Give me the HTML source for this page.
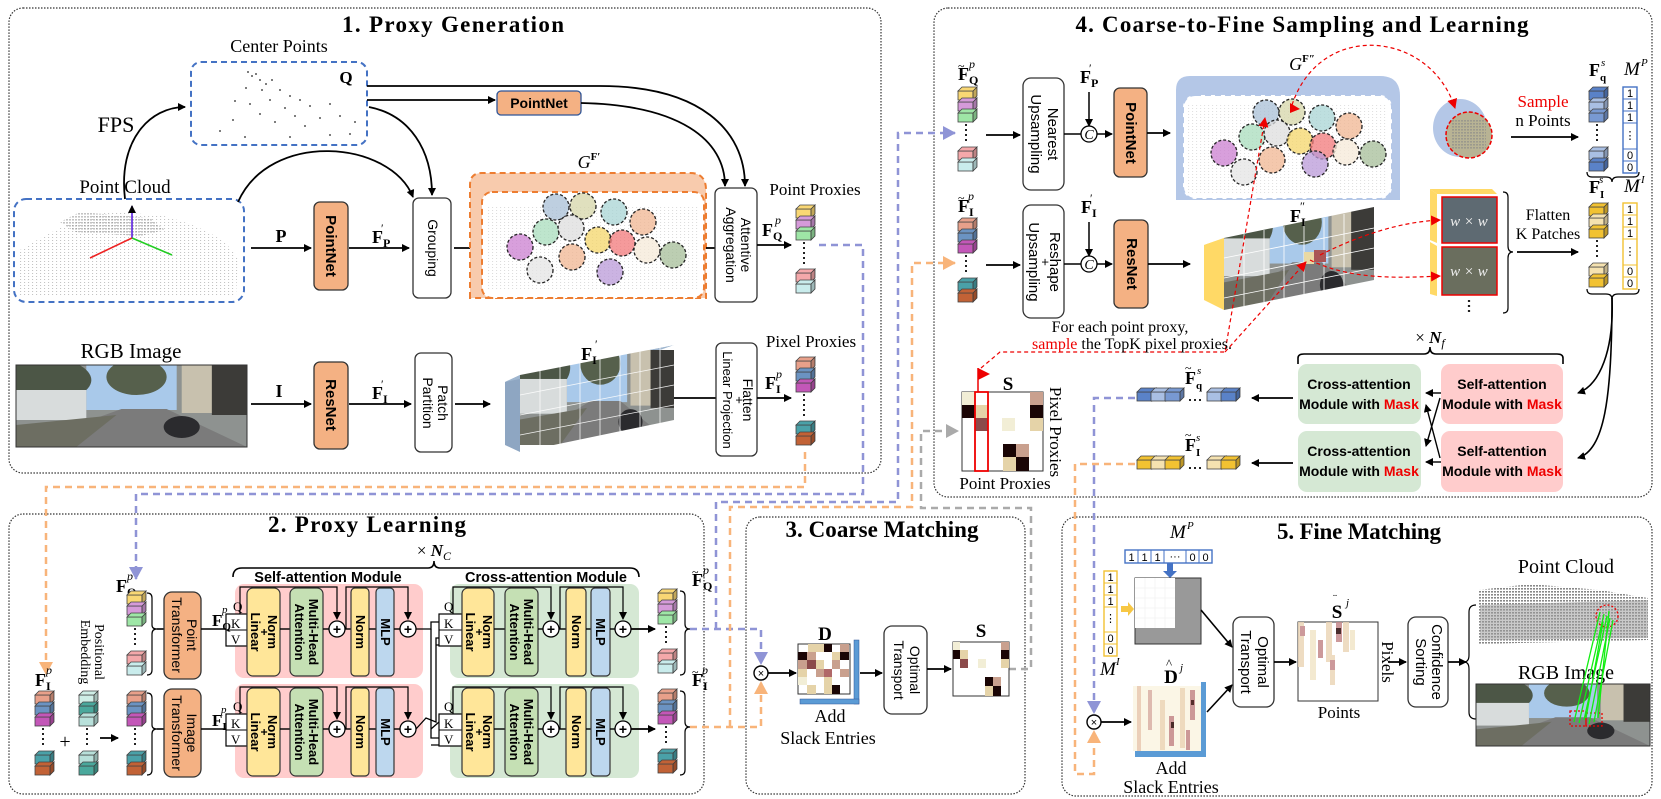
<!DOCTYPE html>
<html><head><meta charset="utf-8"><style>
html,body{margin:0;padding:0;background:#fff;}
svg{display:block;}
.t{font-family:"Liberation Serif",serif;}
.s{font-family:"Liberation Sans",sans-serif;}
.ttl{font-family:"Liberation Serif",serif;font-weight:bold;font-size:23px;}
</style></head><body>
<svg width="1661" height="799" viewBox="0 0 1661 799" xmlns="http://www.w3.org/2000/svg">
<defs>
<marker id="a" markerWidth="8" markerHeight="8" refX="7" refY="4" orient="auto" markerUnits="userSpaceOnUse"><path d="M0,0 L8,4 L0,8z" fill="#000"/></marker>
<marker id="ab" markerWidth="14" markerHeight="14" refX="12" refY="7" orient="auto" markerUnits="userSpaceOnUse"><path d="M0,0 L13,7 L0,14z" fill="#8f94d6"/></marker>
<marker id="ao" markerWidth="14" markerHeight="14" refX="12" refY="7" orient="auto" markerUnits="userSpaceOnUse"><path d="M0,0 L13,7 L0,14z" fill="#f8b47a"/></marker>
<marker id="ag" markerWidth="14" markerHeight="14" refX="12" refY="7" orient="auto" markerUnits="userSpaceOnUse"><path d="M0,0 L13,7 L0,14z" fill="#aaa"/></marker>
<marker id="ar" markerWidth="10" markerHeight="10" refX="9" refY="5" orient="auto" markerUnits="userSpaceOnUse"><path d="M0,0 L10,5 L0,10z" fill="#e00"/></marker>
<pattern id="dp" width="4" height="3" patternUnits="userSpaceOnUse"><rect width="1.1" height="1" fill="#aaa"/></pattern>
<pattern id="dk" width="3" height="3" patternUnits="userSpaceOnUse"><rect width="2" height="1.6" fill="#888"/></pattern>
<g id="cb"><rect x="0" y="4" width="15" height="9" stroke="#444" stroke-width="0.8"/><path d="M0,4 L4,0 L19,0 L15,4 Z M15,4 L19,0 L19,9 L15,13 Z" stroke="#444" stroke-width="0.8"/><path d="M15,4 L19,0 L19,9 L15,13Z" fill="#000" fill-opacity=".22"/></g>
<symbol id="ph" viewBox="0 0 230 82" preserveAspectRatio="none">
<rect width="230" height="82" fill="#8e9290"/>
<rect x="70" y="0" width="90" height="45" fill="#a9c9ea"/>
<rect x="165" y="0" width="65" height="48" fill="#c8c1ae"/><rect x="195" y="0" width="35" height="50" fill="#3c3b38"/>
<ellipse cx="30" cy="15" rx="45" ry="22" fill="#4c5646"/><ellipse cx="120" cy="12" rx="30" ry="18" fill="#56604c"/>
<rect x="0" y="25" width="70" height="30" fill="#d8dcdc"/>
<polygon points="0,82 230,82 150,44 105,44" fill="#7b7b7b"/>
<polygon points="0,82 60,82 100,50 0,60" fill="#6d6e62"/>
<ellipse cx="165" cy="62" rx="18" ry="11" fill="#2b2b2e"/>
</symbol>
</defs>

<!-- Panels -->
<g fill="none" stroke="#333" stroke-width="1.2" stroke-dasharray="1.5 1.5">
<rect x="9" y="8" width="872" height="465" rx="14"/>
<rect x="934" y="8" width="718" height="489" rx="14"/>
<rect x="9" y="514" width="695" height="280" rx="14"/>
<rect x="746" y="517" width="279" height="277" rx="14"/>
<rect x="1062" y="517" width="590" height="279" rx="14"/>
</g>
<text class="ttl" x="453" y="32" text-anchor="middle" textLength="222">1. Proxy Generation</text>
<text class="ttl" x="1302" y="32" text-anchor="middle" textLength="453">4. Coarse-to-Fine Sampling and Learning</text>
<text class="ttl" x="367" y="532" text-anchor="middle" textLength="198">2. Proxy Learning</text>
<text class="ttl" x="882" y="537" text-anchor="middle" textLength="193">3. Coarse Matching</text>
<text class="ttl" x="1359" y="539" text-anchor="middle" textLength="164">5. Fine Matching</text>

<!-- ===== Panel 1 ===== -->
<text class="t" x="279" y="52" font-size="18" text-anchor="middle">Center Points</text>
<rect x="191" y="62" width="176" height="83" rx="10" fill="none" stroke="#4472c4" stroke-width="2" stroke-dasharray="6 4"/>
<text class="t" x="346" y="83" font-size="17" font-weight="bold" text-anchor="middle">Q</text>
<g fill="#555">
<circle cx="248" cy="72" r="1"/><circle cx="252" cy="76" r="1"/><circle cx="256" cy="74" r="1"/><circle cx="260" cy="80" r="1"/><circle cx="266" cy="84" r="1"/><circle cx="272" cy="80" r="1"/><circle cx="246" cy="88" r="1"/><circle cx="262" cy="90" r="1"/><circle cx="280" cy="90" r="1"/><circle cx="290" cy="96" r="1"/><circle cx="300" cy="100" r="1"/><circle cx="270" cy="100" r="1"/><circle cx="250" cy="104" r="1"/><circle cx="235" cy="101" r="1"/><circle cx="285" cy="108" r="1"/><circle cx="310" cy="106" r="1"/><circle cx="330" cy="104" r="1"/><circle cx="260" cy="114" r="1"/><circle cx="295" cy="116" r="1"/><circle cx="320" cy="118" r="1"/><circle cx="340" cy="116" r="1"/><circle cx="233" cy="120" r="1"/><circle cx="275" cy="122" r="1"/><circle cx="305" cy="126" r="1"/><circle cx="355" cy="122" r="1"/><circle cx="220" cy="131" r="1"/><circle cx="245" cy="137" r="1"/><circle cx="290" cy="137" r="1"/><circle cx="330" cy="135" r="1"/><circle cx="350" cy="134" r="1"/>
</g>
<text class="t" x="116" y="132" font-size="22" text-anchor="middle">FPS</text>
<path d="M125,199 C118,140 150,107 185,107" fill="none" stroke="#000" stroke-width="1.8" marker-end="url(#a)"/>
<text class="t" x="125" y="193" font-size="19" text-anchor="middle">Point Cloud</text>
<rect x="14" y="199" width="230" height="103" rx="12" fill="none" stroke="#4472c4" stroke-width="2" stroke-dasharray="6 4"/>
<path d="M20,250 C60,225 90,215 110,212 L160,215 C200,225 230,240 238,260 L236,296 L20,296Z" fill="url(#dp)" opacity="0.7"/>
<path d="M60,222 L80,212 L150,218 L165,230 L140,236 L75,232Z" fill="url(#dk)" opacity="0.5"/>
<line x1="132" y1="238" x2="132" y2="206" stroke="#5a1fe0" stroke-width="1.6" marker-end="url(#a)"/>
<line x1="132" y1="238" x2="90" y2="258" stroke="#e22" stroke-width="1.6"/>
<line x1="132" y1="238" x2="172" y2="255" stroke="#2c2" stroke-width="1.6"/>
<path d="M238,202 C270,130 390,140 413,197" fill="none" stroke="#000" stroke-width="1.8" marker-end="url(#a)"/>
<path d="M369,107 C410,115 432,150 432,195" fill="none" stroke="#000" stroke-width="1.8" marker-end="url(#a)"/>
<path d="M367,86 L600,86 C700,86 745,130 745,186" fill="none" stroke="#000" stroke-width="1.8" marker-end="url(#a)"/>
<path d="M367,100 L495,100" fill="none" stroke="#000" stroke-width="1.8" marker-end="url(#a)"/>
<rect x="497" y="91" width="84" height="24" rx="4" fill="#f4b183" stroke="#2f5597" stroke-width="1.3"/>
<text class="s" x="539" y="108" font-size="14" font-weight="bold" text-anchor="middle">PointNet</text>
<path d="M581,103 C680,105 725,140 725,186" fill="none" stroke="#000" stroke-width="1.8" marker-end="url(#a)"/>

<text class="t" x="281" y="242" font-size="18" font-weight="bold" text-anchor="middle">P</text>
<line x1="251" y1="248" x2="311" y2="248" stroke="#000" stroke-width="1.8" marker-end="url(#a)"/>
<rect x="314" y="202" width="34" height="88" rx="6" fill="#f4b183" stroke="#333" stroke-width="1.3"/>
<text class="s" transform="translate(326,246) rotate(90)" font-size="15" font-weight="bold" text-anchor="middle">PointNet</text>
<text class="t" x="372" y="243" font-size="18" font-weight="bold">F<tspan font-size="12" dy="4">P</tspan></text><text class="t" x="381" y="232" font-size="12">′</text>
<line x1="349" y1="248" x2="409" y2="248" stroke="#000" stroke-width="1.8" marker-end="url(#a)"/>
<rect x="413" y="198" width="38" height="100" rx="6" fill="#fff" stroke="#333" stroke-width="1.3"/>
<text class="s" transform="translate(428,248) rotate(90)" font-size="14" text-anchor="middle">Grouping</text>
<line x1="454" y1="248" x2="477" y2="248" stroke="#000" stroke-width="1.8" marker-end="url(#a)"/>

<path d="M470,298 L470,185 Q470,173 482,173 L690,173 Q706,173 706,190 L706,298Z" fill="#f8cbad" stroke="#ed7d31" stroke-width="2" stroke-dasharray="6 4"/>
<rect x="482" y="192" width="222" height="106" rx="10" fill="#fff" stroke="#ed7d31" stroke-width="2" stroke-dasharray="6 4"/>
<rect x="488" y="205" width="210" height="85" fill="url(#dp)" opacity="0.4"/>
<text class="t" x="589" y="168" font-size="18" font-style="italic" text-anchor="middle">G<tspan font-size="11" font-style="normal" font-weight="bold" dy="-8">F′</tspan></text>
<g stroke="#222" stroke-width="1.3" stroke-dasharray="3 2" fill-opacity="0.75">
<circle cx="556" cy="207" r="13" fill="#a8bfd6"/><circle cx="583" cy="206" r="13" fill="#d5d6a8"/><circle cx="614" cy="212" r="13" fill="#a8d4d4"/><circle cx="643" cy="222" r="13" fill="#f0b592"/>
<circle cx="546" cy="232" r="13" fill="#a8dcbc"/><circle cx="571" cy="228" r="13" fill="#ddd"/><circle cx="598" cy="240" r="13" fill="#f4d66a"/><circle cx="622" cy="243" r="13" fill="#f2787a"/><circle cx="647" cy="250" r="13" fill="#f6ead8"/><circle cx="673" cy="255" r="13" fill="#a6be98"/>
<circle cx="520" cy="247" r="13" fill="#cb7fd0"/><circle cx="540" cy="270" r="13" fill="#e4e4e4"/><circle cx="572" cy="257" r="13" fill="#f0b592"/><circle cx="610" cy="272" r="13" fill="#b99ad8"/>
</g>
<line x1="706" y1="248" x2="715" y2="248" stroke="#000" stroke-width="1.8"/>
<rect x="715" y="188" width="42" height="114" rx="6" fill="#fff" stroke="#333" stroke-width="1.3"/>
<text class="s" transform="translate(741,245) rotate(90)" font-size="14" text-anchor="middle">Attentive</text>
<text class="s" transform="translate(726,245) rotate(90)" font-size="14" text-anchor="middle">Aggregation</text>
<text class="t" x="815" y="195" font-size="17" text-anchor="middle">Point Proxies</text>
<text class="t" x="762" y="236" font-size="18" font-weight="bold">F<tspan font-size="12" dy="4">Q</tspan></text><text class="t" x="775" y="224" font-size="12" font-style="italic">p</text>
<line x1="757" y1="245" x2="791" y2="245" stroke="#000" stroke-width="1.8" marker-end="url(#a)"/>
<g transform="translate(796,205)"><use href="#cb" fill="#f9d774"/><use href="#cb" y="11" fill="#d59ad9"/><use href="#cb" y="22" fill="#9ee6a6"/><line x1="8" y1="37" x2="8" y2="60" stroke="#222" stroke-width="2" stroke-dasharray="2 3"/><use href="#cb" y="64" fill="#f4a8aa"/><use href="#cb" y="75" fill="#c9ecec"/></g>

<text class="t" x="131" y="358" font-size="21" text-anchor="middle">RGB Image</text>
<use href="#ph" x="16" y="365" width="231" height="82"/>
<rect x="16" y="365" width="231" height="82" fill="none" stroke="#333"/>
<text class="t" x="279" y="397" font-size="18" font-weight="bold" text-anchor="middle">I</text>
<line x1="251" y1="404" x2="311" y2="404" stroke="#000" stroke-width="1.8" marker-end="url(#a)"/>
<rect x="314" y="362" width="34" height="87" rx="6" fill="#f4b183" stroke="#333" stroke-width="1.3"/>
<text class="s" transform="translate(326,405) rotate(90)" font-size="15" font-weight="bold" text-anchor="middle">ResNet</text>
<text class="t" x="372" y="399" font-size="18" font-weight="bold">F<tspan font-size="12" dy="4">I</tspan></text><text class="t" x="381" y="388" font-size="12">′</text>
<line x1="349" y1="404" x2="411" y2="404" stroke="#000" stroke-width="1.8" marker-end="url(#a)"/>
<rect x="415" y="353" width="37" height="99" rx="6" fill="#fff" stroke="#333" stroke-width="1.3"/>
<text class="s" transform="translate(438,403) rotate(90)" font-size="14" text-anchor="middle">Patch</text>
<text class="s" transform="translate(423,403) rotate(90)" font-size="14" text-anchor="middle">Partition</text>
<line x1="455" y1="404" x2="490" y2="404" stroke="#000" stroke-width="1.8" marker-end="url(#a)"/>
<polygon points="505,382 520,375 520,452 505,445" fill="#8ea6c2"/>
<polygon points="505,382 520,375 674,345 660,350" fill="#9fb6cf"/>
<svg x="520" y="345" width="154" height="107" viewBox="0 0 154 107" preserveAspectRatio="none"><use href="#ph" x="0" y="5" width="154" height="95"/></svg>
<polygon points="520,375 674,345 520,345" fill="#fff"/>
<polygon points="520,452 674,420 674,452" fill="#fff"/>
<g stroke="#fff" stroke-width="0.8" opacity="0.9"><line x1="540" y1="371" x2="540" y2="448"/><line x1="560" y1="367" x2="560" y2="444"/><line x1="580" y1="363" x2="580" y2="440"/><line x1="600" y1="359" x2="600" y2="436"/><line x1="620" y1="355" x2="620" y2="432"/><line x1="640" y1="351" x2="640" y2="428"/><line x1="660" y1="347" x2="660" y2="424"/><line x1="520" y1="395" x2="674" y2="365"/><line x1="520" y1="415" x2="674" y2="385"/><line x1="520" y1="435" x2="674" y2="405"/></g>
<text class="t" x="589" y="360" font-size="18" font-weight="bold" text-anchor="middle">F<tspan font-size="12" dy="4">I</tspan></text><text class="t" x="595" y="348" font-size="12">′</text>
<line x1="674" y1="398" x2="716" y2="398" stroke="#000" stroke-width="1.8"/>
<rect x="716" y="343" width="41" height="113" rx="6" fill="#fff" stroke="#333" stroke-width="1.3"/>
<text class="s" transform="translate(743,400) rotate(90)" font-size="14" text-anchor="middle">Flatten</text>
<text class="s" transform="translate(735,400) rotate(90)" font-size="13" text-anchor="middle">+</text>
<text class="s" transform="translate(723,400) rotate(90)" font-size="13" text-anchor="middle">Linear Projection</text>
<text class="t" x="811" y="347" font-size="17" text-anchor="middle">Pixel Proxies</text>
<text class="t" x="765" y="389" font-size="18" font-weight="bold">F<tspan font-size="12" dy="4">I</tspan></text><text class="t" x="776" y="378" font-size="12" font-style="italic">p</text>
<line x1="757" y1="398" x2="791" y2="398" stroke="#000" stroke-width="1.8" marker-end="url(#a)"/>
<g transform="translate(796,357)"><use href="#cb" fill="#e8a08a"/><use href="#cb" y="11" fill="#6b93c2"/><use href="#cb" y="22" fill="#c357b8"/><line x1="8" y1="37" x2="8" y2="60" stroke="#222" stroke-width="2" stroke-dasharray="2 3"/><use href="#cb" y="64" fill="#4aa1a8"/><use href="#cb" y="75" fill="#c26236"/></g>

<!-- dashed connectors -->
<g fill="none" stroke-width="2.5" stroke-dasharray="7 5">
<path d="M819,245 L863,245 L863,494 L136,494 L136,579" stroke="#8f94d6" marker-end="url(#ab)"/>
<path d="M805,452 L805,487 L46,487 L46,674" stroke="#f8b47a" marker-end="url(#ao)"/>
<path d="M690,629 L761,629 L761,664" stroke="#8f94d6" marker-end="url(#ab)"/>
<path d="M716,629 L716,502 L898,502 L898,133 L955,133" stroke="#8f94d6" marker-end="url(#ab)"/>
<path d="M690,727 L761,727 L761,682" stroke="#f8b47a" marker-end="url(#ao)"/>
<path d="M730,727 L730,507 L912,507 L912,263 L955,263" stroke="#f8b47a" marker-end="url(#ao)"/>
<path d="M1009,669 L1031,669 L1031,508 L921,508 L921,431 L958,431" stroke="#aaa" marker-end="url(#ag)"/>
<path d="M1135,398 L1094,398 L1094,713" stroke="#8f94d6" marker-end="url(#ab)"/>
<path d="M1135,464 L1075,464 L1075,774 L1094,774 L1094,731" stroke="#f8b47a" marker-end="url(#ao)"/>
</g>

<!-- ===== Panel 2 ===== -->
<text class="t" x="434" y="556" font-size="17" text-anchor="middle">× <tspan font-style="italic" font-weight="bold">N</tspan><tspan font-size="12" font-style="italic" dy="4">C</tspan></text>
<path d="M233,577 Q233,568 242,568 L428,568 Q434,568 434,561 Q434,568 440,568 L630,568 Q639,568 639,577" fill="none" stroke="#000" stroke-width="1.6"/>
<text class="s" x="328" y="582" font-size="14.5" font-weight="bold" text-anchor="middle">Self-attention Module</text>
<text class="s" x="546" y="582" font-size="14.5" font-weight="bold" text-anchor="middle">Cross-attention Module</text>

<text class="t" x="116" y="592" font-size="18" font-weight="bold">F<tspan font-size="12" dy="4">Q</tspan></text><text class="t" x="127" y="580" font-size="12" font-style="italic">p</text>
<g transform="translate(127,591)"><use href="#cb" fill="#f9d774"/><use href="#cb" y="11" fill="#d59ad9"/><use href="#cb" y="22" fill="#9ee6a6"/><line x1="8" y1="37" x2="8" y2="56" stroke="#222" stroke-width="2" stroke-dasharray="2 3"/><use href="#cb" y="60" fill="#f4a8aa"/><use href="#cb" y="71" fill="#c9ecec"/></g>
<path d="M147,593 Q152,593 152,598 L152,625 Q152,629 157,629 Q152,629 152,634 L152,670 Q152,675 147,675" fill="none" stroke="#000" stroke-width="1.2"/>
<line x1="157" y1="629" x2="164" y2="629" stroke="#000" stroke-width="1.6"/>
<rect x="164" y="592" width="37" height="87" rx="8" fill="#f4b183" stroke="#333" stroke-width="1.3"/>
<text class="s" transform="translate(187,635) rotate(90)" font-size="14" text-anchor="middle">Point</text>
<text class="s" transform="translate(172,635) rotate(90)" font-size="14" text-anchor="middle">Transformer</text>

<text class="t" x="35" y="686" font-size="18" font-weight="bold">F<tspan font-size="12" dy="4">I</tspan></text><text class="t" x="46" y="674" font-size="12" font-style="italic">p</text>
<g transform="translate(35,691)"><use href="#cb" fill="#e8a08a"/><use href="#cb" y="11" fill="#6b93c2"/><use href="#cb" y="22" fill="#c357b8"/><line x1="8" y1="37" x2="8" y2="56" stroke="#222" stroke-width="2" stroke-dasharray="2 3"/><use href="#cb" y="60" fill="#4aa1a8"/><use href="#cb" y="71" fill="#c26236"/></g>
<text class="t" x="65" y="748" font-size="20" text-anchor="middle">+</text>
<text class="t" transform="translate(81,652) rotate(90)" font-size="14" text-anchor="middle">Embedding</text>
<text class="t" transform="translate(95,652) rotate(90)" font-size="14" text-anchor="middle">Positional</text>
<g transform="translate(79,691)"><use href="#cb" fill="#cfeee6"/><use href="#cb" y="11" fill="#4aa89c"/><use href="#cb" y="22" fill="#b8e0da"/><line x1="8" y1="37" x2="8" y2="56" stroke="#222" stroke-width="2" stroke-dasharray="2 3"/><use href="#cb" y="60" fill="#b8e0da"/><use href="#cb" y="71" fill="#4aa89c"/></g>
<line x1="100" y1="738" x2="118" y2="738" stroke="#000" stroke-width="1.8" marker-end="url(#a)"/>
<g transform="translate(127,691)"><use href="#cb" fill="#e8a08a"/><use href="#cb" y="11" fill="#6b93c2"/><use href="#cb" y="22" fill="#c357b8"/><line x1="8" y1="37" x2="8" y2="56" stroke="#222" stroke-width="2" stroke-dasharray="2 3"/><use href="#cb" y="60" fill="#4aa1a8"/><use href="#cb" y="71" fill="#c26236"/></g>
<path d="M147,693 Q152,693 152,698 L152,725 Q152,729 157,729 Q152,729 152,734 L152,770 Q152,775 147,775" fill="none" stroke="#000" stroke-width="1.2"/>
<line x1="157" y1="729" x2="164" y2="729" stroke="#000" stroke-width="1.6"/>
<rect x="164" y="689" width="37" height="88" rx="8" fill="#f4b183" stroke="#333" stroke-width="1.3"/>
<text class="s" transform="translate(187,733) rotate(90)" font-size="14" text-anchor="middle">Image</text>
<text class="s" transform="translate(172,733) rotate(90)" font-size="14" text-anchor="middle">Transformer</text>

<!-- attention blocks, two rows -->
<g id="row1">
<rect x="235" y="584" width="188" height="94" rx="9" fill="#ffcccc"/>
<rect x="450" y="584" width="189" height="94" rx="9" fill="#d5e8d4"/>
<line x1="201" y1="629" x2="226" y2="629" stroke="#000" stroke-width="1.6"/>
<rect x="226" y="614" width="21" height="32" fill="#fff" stroke="#000" stroke-width="1.2"/><line x1="226" y1="630" x2="247" y2="630" stroke="#000"/>
<text class="t" x="233" y="611" font-size="13">Q</text><text class="t" x="231" y="628" font-size="13">K</text><text class="t" x="231" y="644" font-size="13">V</text>
<path d="M240,614 L240,587 L337,587 L337,619" fill="none" stroke="#000" stroke-width="1.2" marker-end="url(#a)"/>
<rect x="247" y="588" width="33" height="88" rx="6" fill="#ffe699" stroke="#333" stroke-width="1.2"/>
<text class="s" transform="translate(268,632) rotate(90)" font-size="13" font-weight="bold" text-anchor="middle">Norm</text>
<text class="s" transform="translate(260,632) rotate(90)" font-size="12" font-weight="bold" text-anchor="middle">+</text>
<text class="s" transform="translate(251,632) rotate(90)" font-size="13" font-weight="bold" text-anchor="middle">Linear</text>
<line x1="280" y1="629" x2="290" y2="629" stroke="#000" stroke-width="1.4"/>
<rect x="290" y="588" width="33" height="88" rx="6" fill="#c5e0b4" stroke="#333" stroke-width="1.2"/>
<text class="s" transform="translate(309,632) rotate(90)" font-size="13" font-weight="bold" text-anchor="middle">Multi-Head</text>
<text class="s" transform="translate(295,632) rotate(90)" font-size="13" font-weight="bold" text-anchor="middle">Attention</text>
<line x1="323" y1="629" x2="329" y2="629" stroke="#000" stroke-width="1.4"/>
<circle cx="337" cy="629" r="8" fill="#fff" stroke="#000" stroke-width="1.3"/><text class="s" x="337" y="634" font-size="14" font-weight="bold" text-anchor="middle">+</text>
<path d="M346,629 L346,587 L408,587 L408,619" fill="none" stroke="#000" stroke-width="1.2" marker-end="url(#a)"/>
<line x1="345" y1="629" x2="351" y2="629" stroke="#000" stroke-width="1.4"/>
<rect x="351" y="588" width="18" height="88" rx="4" fill="#ffe699" stroke="#333" stroke-width="1.2"/>
<text class="s" transform="translate(356,632) rotate(90)" font-size="13" font-weight="bold" text-anchor="middle">Norm</text>
<line x1="369" y1="629" x2="376" y2="629" stroke="#000" stroke-width="1.4"/>
<rect x="376" y="588" width="18" height="88" rx="4" fill="#bdd7ee" stroke="#333" stroke-width="1.2"/>
<text class="s" transform="translate(381,632) rotate(90)" font-size="13" font-weight="bold" text-anchor="middle">MLP</text>
<line x1="394" y1="629" x2="400" y2="629" stroke="#000" stroke-width="1.4"/>
<circle cx="408" cy="629" r="8" fill="#fff" stroke="#000" stroke-width="1.3"/><text class="s" x="408" y="634" font-size="14" font-weight="bold" text-anchor="middle">+</text>
<rect x="439" y="614" width="23" height="32" fill="#fff" stroke="#000" stroke-width="1.2"/><line x1="439" y1="630" x2="462" y2="630" stroke="#000"/>
<text class="t" x="444" y="611" font-size="13">Q</text><text class="t" x="444" y="628" font-size="13">K</text><text class="t" x="444" y="644" font-size="13">V</text>
<path d="M453,614 L453,587 L551,587 L551,619" fill="none" stroke="#000" stroke-width="1.2" marker-end="url(#a)"/>
<rect x="462" y="588" width="32" height="88" rx="6" fill="#ffe699" stroke="#333" stroke-width="1.2"/>
<text class="s" transform="translate(483,632) rotate(90)" font-size="13" font-weight="bold" text-anchor="middle">Norm</text>
<text class="s" transform="translate(475,632) rotate(90)" font-size="12" font-weight="bold" text-anchor="middle">+</text>
<text class="s" transform="translate(466,632) rotate(90)" font-size="13" font-weight="bold" text-anchor="middle">Linear</text>
<line x1="494" y1="629" x2="505" y2="629" stroke="#000" stroke-width="1.4"/>
<rect x="505" y="588" width="33" height="88" rx="6" fill="#c5e0b4" stroke="#333" stroke-width="1.2"/>
<text class="s" transform="translate(524,632) rotate(90)" font-size="13" font-weight="bold" text-anchor="middle">Multi-Head</text>
<text class="s" transform="translate(510,632) rotate(90)" font-size="13" font-weight="bold" text-anchor="middle">Attention</text>
<line x1="538" y1="629" x2="543" y2="629" stroke="#000" stroke-width="1.4"/>
<circle cx="551" cy="629" r="8" fill="#fff" stroke="#000" stroke-width="1.3"/><text class="s" x="551" y="634" font-size="14" font-weight="bold" text-anchor="middle">+</text>
<path d="M560,629 L560,587 L623,587 L623,619" fill="none" stroke="#000" stroke-width="1.2" marker-end="url(#a)"/>
<line x1="559" y1="629" x2="566" y2="629" stroke="#000" stroke-width="1.4"/>
<rect x="566" y="588" width="20" height="88" rx="4" fill="#ffe699" stroke="#333" stroke-width="1.2"/>
<text class="s" transform="translate(572,632) rotate(90)" font-size="13" font-weight="bold" text-anchor="middle">Norm</text>
<line x1="586" y1="629" x2="591" y2="629" stroke="#000" stroke-width="1.4"/>
<rect x="591" y="588" width="19" height="88" rx="4" fill="#bdd7ee" stroke="#333" stroke-width="1.2"/>
<text class="s" transform="translate(596,632) rotate(90)" font-size="13" font-weight="bold" text-anchor="middle">MLP</text>
<line x1="610" y1="629" x2="615" y2="629" stroke="#000" stroke-width="1.4"/>
<circle cx="623" cy="629" r="8" fill="#fff" stroke="#000" stroke-width="1.3"/><text class="s" x="623" y="634" font-size="14" font-weight="bold" text-anchor="middle">+</text>
<line x1="631" y1="629" x2="655" y2="629" stroke="#000" stroke-width="1.8" marker-end="url(#a)"/>
</g>
<use href="#row1" y="100"/>
<text class="t" x="212" y="626" font-size="17" font-weight="bold">F<tspan font-size="11" dy="4">Q</tspan></text><text class="t" x="222" y="613" font-size="11" font-style="italic">p</text>
<text class="t" x="212" y="726" font-size="17" font-weight="bold">F<tspan font-size="11" dy="4">I</tspan></text><text class="t" x="221" y="713" font-size="11" font-style="italic">p</text>
<g fill="none" stroke="#000" stroke-width="1.3">
<path d="M416,629 L431,629 L431,622 L439,622"/>
<path d="M431,629 L431,738 L439,738 M431,745 L439,745"/>
<path d="M416,729 L426,718 L436,722 L436,638 L439,638 M436,645 L439,645"/>
<path d="M431,729 L439,722"/>
</g>
<text class="t" x="692" y="586" font-size="18" font-weight="bold">F<tspan font-size="12" dy="4">Q</tspan></text><text class="t" x="703" y="574" font-size="12" font-style="italic">p</text><text class="t" x="692" y="576" font-size="12">~</text>
<g transform="translate(658,589)"><use href="#cb" fill="#f9d774"/><use href="#cb" y="11" fill="#d59ad9"/><use href="#cb" y="22" fill="#9ee6a6"/><line x1="8" y1="37" x2="8" y2="56" stroke="#222" stroke-width="2" stroke-dasharray="2 3"/><use href="#cb" y="60" fill="#f4a8aa"/><use href="#cb" y="71" fill="#c9ecec"/></g>
<text class="t" x="692" y="686" font-size="18" font-weight="bold">F<tspan font-size="12" dy="4">I</tspan></text><text class="t" x="702" y="674" font-size="12" font-style="italic">p</text><text class="t" x="692" y="676" font-size="12">~</text>
<g transform="translate(658,689)"><use href="#cb" fill="#e8a08a"/><use href="#cb" y="11" fill="#6b93c2"/><use href="#cb" y="22" fill="#c357b8"/><line x1="8" y1="37" x2="8" y2="56" stroke="#222" stroke-width="2" stroke-dasharray="2 3"/><use href="#cb" y="60" fill="#4aa1a8"/><use href="#cb" y="71" fill="#c26236"/></g>
<path d="M680,591 Q685,591 685,596 L685,624 Q685,629 690,629 Q685,629 685,634 L685,670 Q685,675 680,675" fill="none" stroke="#000" stroke-width="1.2"/>
<path d="M680,691 Q685,691 685,696 L685,722 Q685,727 690,727 Q685,727 685,732 L685,770 Q685,775 680,775" fill="none" stroke="#000" stroke-width="1.2"/>

<!-- ===== Panel 3 ===== -->
<circle cx="761" cy="673" r="7" fill="#fff" stroke="#000" stroke-width="1.4"/><text class="s" x="761" y="677" font-size="11" text-anchor="middle">×</text>
<line x1="768" y1="673" x2="796" y2="673" stroke="#000" stroke-width="1.8" marker-end="url(#a)"/>
<text class="t" x="825" y="640" font-size="19" font-weight="bold" text-anchor="middle">D</text>
<rect x="854" y="640" width="5" height="64" fill="#5b9bd5" stroke="#2f5597" stroke-width=".5"/>
<rect x="800" y="699" width="59" height="5" fill="#5b9bd5" stroke="#2f5597" stroke-width=".5"/>
<g>
<rect x="798" y="644" width="52" height="50" fill="#fff" stroke="#333"/>
<rect x="808" y="644" width="8" height="8" fill="#e5d3a8"/><rect x="816" y="644" width="8" height="8" fill="#e5d3a8"/><rect x="824" y="644" width="8" height="8" fill="#1a0505"/><rect x="840" y="644" width="9" height="8" fill="#c9a08e"/>
<rect x="798" y="652" width="9" height="8" fill="#1a0505"/><rect x="807" y="652" width="9" height="8" fill="#c9a08e"/><rect x="832" y="652" width="8" height="8" fill="#e5d3a8"/><rect x="840" y="652" width="9" height="8" fill="#1a0505"/>
<rect x="798" y="660" width="9" height="9" fill="#c9a08e"/><rect x="807" y="660" width="9" height="9" fill="#8b4a4a"/><rect x="816" y="660" width="8" height="9" fill="#e5d3a8"/><rect x="832" y="660" width="8" height="9" fill="#c9a08e"/>
<rect x="798" y="669" width="9" height="8" fill="#e5d3a8"/><rect x="816" y="669" width="8" height="8" fill="#c9a08e"/><rect x="824" y="669" width="8" height="8" fill="#b06868"/><rect x="840" y="669" width="9" height="8" fill="#c9a08e"/>
<rect x="798" y="677" width="9" height="8" fill="#f2eed6"/><rect x="824" y="677" width="8" height="8" fill="#e5d3a8"/>
<rect x="807" y="685" width="9" height="9" fill="#e5d3a8"/><rect x="824" y="685" width="8" height="9" fill="#e5d3a8"/><rect x="832" y="685" width="8" height="9" fill="#1a0505"/>
</g>
<text class="t" x="830" y="722" font-size="18" text-anchor="middle">Add</text>
<text class="t" x="828" y="744" font-size="18" text-anchor="middle">Slack Entries</text>
<line x1="860" y1="673" x2="882" y2="673" stroke="#000" stroke-width="1.8" marker-end="url(#a)"/>
<rect x="884" y="626" width="43" height="88" rx="8" fill="#fff" stroke="#333" stroke-width="1.3"/>
<text class="s" transform="translate(910,670) rotate(90)" font-size="14" text-anchor="middle">Optimal</text>
<text class="s" transform="translate(894,670) rotate(90)" font-size="14" text-anchor="middle">Transport</text>
<line x1="927" y1="669" x2="951" y2="669" stroke="#000" stroke-width="1.8" marker-end="url(#a)"/>
<text class="t" x="981" y="637" font-size="19" font-weight="bold" text-anchor="middle">S</text>
<rect x="953" y="642" width="56" height="54" fill="#fff" stroke="#333"/>
<rect x="953" y="642" width="7" height="8" fill="#f2eed6"/><rect x="953" y="650" width="7" height="9" fill="#1a0505"/><rect x="960" y="650" width="8" height="9" fill="#e5d3a8"/><rect x="960" y="659" width="8" height="9" fill="#8b4a4a"/><rect x="978" y="659" width="8" height="9" fill="#f2eed6"/><rect x="1001" y="642" width="8" height="8" fill="#c9a08e"/><rect x="1001" y="650" width="8" height="9" fill="#1a0505"/><rect x="1001" y="659" width="8" height="9" fill="#e5d3a8"/><rect x="985" y="677" width="8" height="9" fill="#1a0505"/><rect x="993" y="677" width="8" height="9" fill="#c9a08e"/><rect x="985" y="686" width="8" height="10" fill="#e5d3a8"/><rect x="993" y="686" width="8" height="10" fill="#1a0505"/>

<!-- ===== Panel 4 ===== -->
<text class="t" x="958" y="80" font-size="18" font-weight="bold">F<tspan font-size="12" dy="4">Q</tspan></text><text class="t" x="969" y="68" font-size="12" font-style="italic">p</text><text class="t" x="958" y="70" font-size="12">~</text>
<g transform="translate(958,87)"><use href="#cb" fill="#f9d774"/><use href="#cb" y="11" fill="#d59ad9"/><use href="#cb" y="22" fill="#9ee6a6"/><line x1="8" y1="37" x2="8" y2="56" stroke="#222" stroke-width="2" stroke-dasharray="2 3"/><use href="#cb" y="60" fill="#f4a8aa"/><use href="#cb" y="71" fill="#c9ecec"/></g>
<text class="t" x="958" y="212" font-size="18" font-weight="bold">F<tspan font-size="12" dy="4">I</tspan></text><text class="t" x="968" y="200" font-size="12" font-style="italic">p</text><text class="t" x="958" y="202" font-size="12">~</text>
<g transform="translate(958,218)"><use href="#cb" fill="#e8a08a"/><use href="#cb" y="11" fill="#6b93c2"/><use href="#cb" y="22" fill="#c357b8"/><line x1="8" y1="37" x2="8" y2="56" stroke="#222" stroke-width="2" stroke-dasharray="2 3"/><use href="#cb" y="60" fill="#4aa1a8"/><use href="#cb" y="71" fill="#c26236"/></g>
<line x1="986" y1="135" x2="1020" y2="135" stroke="#000" stroke-width="1.8" marker-end="url(#a)"/>
<line x1="986" y1="265" x2="1020" y2="265" stroke="#000" stroke-width="1.8" marker-end="url(#a)"/>
<rect x="1023" y="78" width="41" height="112" rx="8" fill="#fff" stroke="#333" stroke-width="1.3"/>
<text class="s" transform="translate(1048,134) rotate(90)" font-size="15" text-anchor="middle">Nearest</text>
<text class="s" transform="translate(1031,134) rotate(90)" font-size="15" text-anchor="middle">Upsampling</text>
<rect x="1023" y="205" width="41" height="113" rx="8" fill="#fff" stroke="#333" stroke-width="1.3"/>
<text class="s" transform="translate(1050,262) rotate(90)" font-size="15" text-anchor="middle">Reshape</text>
<text class="s" transform="translate(1041,262) rotate(90)" font-size="13" text-anchor="middle">+</text>
<text class="s" transform="translate(1029,262) rotate(90)" font-size="15" text-anchor="middle">Upsampling</text>
<text class="t" x="1080" y="83" font-size="18" font-weight="bold">F<tspan font-size="12" dy="4">P</tspan></text><text class="t" x="1089" y="72" font-size="12">′</text>
<line x1="1089" y1="92" x2="1089" y2="126" stroke="#000" stroke-width="1.5" marker-end="url(#a)"/>
<text class="t" x="1081" y="213" font-size="18" font-weight="bold">F<tspan font-size="12" dy="4">I</tspan></text><text class="t" x="1090" y="202" font-size="12">′</text>
<line x1="1089" y1="222" x2="1089" y2="256" stroke="#000" stroke-width="1.5" marker-end="url(#a)"/>
<line x1="1064" y1="134" x2="1112" y2="134" stroke="#000" stroke-width="1.6" marker-end="url(#a)"/>
<line x1="1064" y1="264" x2="1112" y2="264" stroke="#000" stroke-width="1.6" marker-end="url(#a)"/>
<circle cx="1089" cy="134" r="8" fill="#fff" stroke="#000" stroke-width="1.3"/><text class="t" x="1089" y="139" font-size="14" font-style="italic" text-anchor="middle">C</text>
<circle cx="1089" cy="264" r="8" fill="#fff" stroke="#000" stroke-width="1.3"/><text class="t" x="1089" y="269" font-size="14" font-style="italic" text-anchor="middle">C</text>
<rect x="1114" y="88" width="33" height="89" rx="6" fill="#f4b183" stroke="#333" stroke-width="1.3"/>
<text class="s" transform="translate(1126,133) rotate(90)" font-size="15" font-weight="bold" text-anchor="middle">PointNet</text>
<rect x="1114" y="220" width="34" height="88" rx="6" fill="#f4b183" stroke="#333" stroke-width="1.3"/>
<text class="s" transform="translate(1127,264) rotate(90)" font-size="15" font-weight="bold" text-anchor="middle">ResNet</text>
<line x1="1147" y1="133" x2="1170" y2="133" stroke="#000" stroke-width="1.8" marker-end="url(#a)"/>
<line x1="1148" y1="264" x2="1190" y2="264" stroke="#000" stroke-width="1.8" marker-end="url(#a)"/>

<text class="t" x="1302" y="70" font-size="18" font-style="italic" text-anchor="middle">G<tspan font-size="11" font-style="normal" font-weight="bold" dy="-8">F″</tspan></text>
<path d="M1176,200 L1176,90 Q1176,76 1190,76 L1380,76 Q1400,76 1400,96 L1400,200Z" fill="#b4c7e7"/>
<rect x="1183" y="95" width="209" height="104" rx="12" fill="#fff" stroke="#b4c7e7" stroke-width="2" stroke-dasharray="6 4"/>
<rect x="1188" y="105" width="200" height="88" fill="url(#dp)" opacity="0.35"/>
<g stroke="#222" stroke-width="1.3" stroke-dasharray="3 2" fill-opacity="0.75">
<circle cx="1266" cy="113" r="13" fill="#a8bfd6"/><circle cx="1292" cy="112" r="13" fill="#d5d6a8"/><circle cx="1322" cy="118" r="13" fill="#a8d4d4"/><circle cx="1349" cy="126" r="13" fill="#f0b592"/>
<circle cx="1252" cy="137" r="13" fill="#a8dcbc"/><circle cx="1277" cy="133" r="13" fill="#ddd"/><circle cx="1300" cy="141" r="13" fill="#f4d66a"/><circle cx="1323" cy="146" r="13" fill="#f2787a"/><circle cx="1346" cy="152" r="13" fill="#f6ead8"/><circle cx="1373" cy="154" r="13" fill="#a6be98"/>
<circle cx="1224" cy="153" r="13" fill="#cb7fd0"/><circle cx="1244" cy="172" r="13" fill="#e4e4e4"/><circle cx="1272" cy="160" r="13" fill="#f0b592"/><circle cx="1315" cy="164" r="13" fill="#b99ad8"/>
</g>
<ellipse cx="1460" cy="128" rx="27" ry="29" fill="#b4c7e7"/>
<circle cx="1469" cy="135" r="23" fill="#b8b394" stroke="#e00" stroke-width="1.5" stroke-dasharray="4 2"/>
<rect x="1452" y="120" width="34" height="30" fill="url(#dk)" opacity=".6"/>
<path d="M1292,105 C1320,20 1430,30 1455,108" fill="none" stroke="#e00" stroke-width="1.2" stroke-dasharray="4 3" marker-end="url(#ar)"/>
<polygon points="1290,103 1300,109 1290,113" fill="#e00"/>
<text class="t" x="1543" y="107" font-size="17" fill="#e00" text-anchor="middle">Sample</text>
<text class="t" x="1543" y="126" font-size="17" text-anchor="middle">n Points</text>
<line x1="1511" y1="137" x2="1578" y2="137" stroke="#000" stroke-width="1.8" marker-end="url(#a)"/>

<polygon points="1204,245 1224,238 1224,310 1204,300" fill="#ffd966"/>
<polygon points="1204,245 1224,238 1374,207 1356,212" fill="#ffd966"/>
<svg x="1224" y="207" width="150" height="103" viewBox="0 0 150 103" preserveAspectRatio="none"><use href="#ph" x="0" y="0" width="150" height="103"/></svg>
<polygon points="1224,238 1374,207 1224,207" fill="#fff"/>
<polygon points="1224,310 1374,280 1374,310" fill="#fff"/>
<g stroke="#fff" stroke-width="0.8"><line x1="1244" y1="234" x2="1244" y2="306"/><line x1="1264" y1="230" x2="1264" y2="302"/><line x1="1284" y1="226" x2="1284" y2="298"/><line x1="1304" y1="222" x2="1304" y2="294"/><line x1="1324" y1="218" x2="1324" y2="290"/><line x1="1344" y1="214" x2="1344" y2="286"/><line x1="1224" y1="258" x2="1374" y2="228"/><line x1="1224" y1="278" x2="1374" y2="248"/><line x1="1224" y1="298" x2="1374" y2="268"/></g>
<rect x="1304" y="252" width="10" height="12" fill="#e9d9a3"/><rect x="1314" y="250" width="12" height="12" fill="#a55"/>
<text class="t" x="1290" y="222" font-size="18" font-weight="bold">F<tspan font-size="12" dy="4">I</tspan></text><text class="t" x="1300" y="210" font-size="12">″</text>
<polygon points="1430,189 1437,194 1437,243 1430,240" fill="#ffd966"/><polygon points="1430,189 1492,189 1497,194 1437,194" fill="#ffd966"/>
<rect x="1442" y="197" width="55" height="46" fill="#5e6a72" stroke="#e00" stroke-width="1.5"/>
<polygon points="1430,242 1437,246 1437,296 1430,294" fill="#ffd966"/>
<rect x="1442" y="247" width="55" height="48" fill="#6a6e5e" stroke="#e00" stroke-width="1.5"/>
<text class="t" x="1469" y="226" font-size="15" font-style="italic" fill="#eee" text-anchor="middle">w × w</text>
<text class="t" x="1469" y="276" font-size="15" font-style="italic" fill="#eee" text-anchor="middle">w × w</text>
<line x1="1469" y1="300" x2="1469" y2="314" stroke="#222" stroke-width="2.2" stroke-dasharray="2 3"/>
<path d="M1320,255 C1360,235 1400,222 1440,220" fill="none" stroke="#e00" stroke-width="1.2" stroke-dasharray="4 3" marker-end="url(#ar)"/>
<path d="M1310,260 C1350,280 1400,278 1440,276" fill="none" stroke="#e00" stroke-width="1.2" stroke-dasharray="4 3" marker-end="url(#ar)"/>
<path d="M1503,192 Q1508,192 1508,197 L1508,246 Q1508,252 1513,252 Q1508,252 1508,258 L1508,308 Q1508,313 1503,313" fill="none" stroke="#000" stroke-width="1.2"/>
<text class="t" x="1548" y="220" font-size="16" text-anchor="middle">Flatten</text>
<text class="t" x="1548" y="239" font-size="16" text-anchor="middle">K Patches</text>
<line x1="1517" y1="252" x2="1578" y2="252" stroke="#000" stroke-width="1.8" marker-end="url(#a)"/>
<path d="M981,368 L1000,352 L1225,352 L1265,118" fill="none" stroke="#e00" stroke-width="1.2" stroke-dasharray="4 3" marker-end="url(#ar)"/>
<path d="M1225,352 L1306,262" fill="none" stroke="#e00" stroke-width="1.2" stroke-dasharray="4 3" marker-end="url(#ar)"/>
<text class="t" x="1120" y="332" font-size="16" text-anchor="middle">For each point proxy,</text>
<text class="t" x="1132" y="349" font-size="16" text-anchor="middle"><tspan fill="#e00">sample</tspan> the TopK pixel proxies.</text>
<text class="t" x="1589" y="76" font-size="18" font-weight="bold">F<tspan font-size="11" dy="5">q</tspan></text><text class="t" x="1601" y="66" font-size="11" font-style="italic">s</text>
<text class="t" x="1624" y="75" font-size="19" font-style="italic">M</text><text class="t" x="1641" y="66" font-size="11" font-style="italic">P</text>
<g transform="translate(1589,87)"><use href="#cb" fill="#5a82c8"/><use href="#cb" y="11" fill="#a9bfe3"/><use href="#cb" y="22" fill="#7899d2"/><line x1="8" y1="37" x2="8" y2="56" stroke="#222" stroke-width="2" stroke-dasharray="2 3"/><use href="#cb" y="60" fill="#a9bfe3"/><use href="#cb" y="71" fill="#5a82c8"/></g>
<g transform="translate(1623,87)" font-family="Liberation Sans,sans-serif" font-size="11" text-anchor="middle"><rect width="14" height="86" fill="#fff" stroke="#4472c4" stroke-width="1.4"/><line x1="0" y1="12" x2="14" y2="12" stroke="#4472c4"/><line x1="0" y1="24" x2="14" y2="24" stroke="#4472c4"/><line x1="0" y1="36" x2="14" y2="36" stroke="#4472c4"/><line x1="0" y1="62" x2="14" y2="62" stroke="#4472c4"/><line x1="0" y1="74" x2="14" y2="74" stroke="#4472c4"/><text x="7" y="10">1</text><text x="7" y="22">1</text><text x="7" y="34">1</text><text x="7" y="52">⋮</text><text x="7" y="72">0</text><text x="7" y="84">0</text></g>
<path d="M1587,172 Q1587,177 1592,177 L1606,177 Q1612,177 1612,182 Q1612,177 1618,177 L1634,177 Q1639,177 1639,172" fill="none" stroke="#000" stroke-width="1.2"/>
<text class="t" x="1589" y="193" font-size="18" font-weight="bold">F<tspan font-size="11" dy="5">I</tspan></text><text class="t" x="1599" y="183" font-size="11" font-style="italic">s</text>
<text class="t" x="1624" y="192" font-size="19" font-style="italic">M</text><text class="t" x="1641" y="183" font-size="11" font-style="italic">I</text>
<g transform="translate(1589,203)"><use href="#cb" fill="#f2c232"/><use href="#cb" y="11" fill="#f5e2b0"/><use href="#cb" y="22" fill="#f2c232"/><line x1="8" y1="37" x2="8" y2="56" stroke="#222" stroke-width="2" stroke-dasharray="2 3"/><use href="#cb" y="60" fill="#f5e2b0"/><use href="#cb" y="71" fill="#f2c232"/></g>
<g transform="translate(1623,203)" font-family="Liberation Sans,sans-serif" font-size="11" text-anchor="middle"><rect width="14" height="86" fill="#fff" stroke="#f2c232" stroke-width="1.4"/><line x1="0" y1="12" x2="14" y2="12" stroke="#f2c232"/><line x1="0" y1="24" x2="14" y2="24" stroke="#f2c232"/><line x1="0" y1="36" x2="14" y2="36" stroke="#f2c232"/><line x1="0" y1="62" x2="14" y2="62" stroke="#f2c232"/><line x1="0" y1="74" x2="14" y2="74" stroke="#f2c232"/><text x="7" y="10">1</text><text x="7" y="22">1</text><text x="7" y="34">1</text><text x="7" y="52">⋮</text><text x="7" y="72">0</text><text x="7" y="84">0</text></g>
<path d="M1587,289 Q1587,294 1592,294 L1606,294 Q1612,294 1612,299 Q1612,294 1618,294 L1634,294 Q1639,294 1639,289" fill="none" stroke="#000" stroke-width="1.2"/>
<path d="M1612,298 C1614,350 1600,385 1578,393" fill="none" stroke="#000" stroke-width="1.6" marker-end="url(#a)"/>
<path d="M1612,298 C1612,400 1604,450 1578,458" fill="none" stroke="#000" stroke-width="1.6" marker-end="url(#a)"/>
<text class="t" x="1430" y="343" font-size="17" text-anchor="middle">× <tspan font-style="italic" font-weight="bold">N</tspan><tspan font-size="12" font-style="italic" dy="4">f</tspan></text>
<path d="M1298,364 L1298,358 Q1298,354 1304,354 L1424,354 Q1430,354 1430,347 Q1430,354 1436,354 L1557,354 Q1563,354 1563,358 L1563,364" fill="none" stroke="#000" stroke-width="1.6"/>
<rect x="1298" y="364" width="123" height="60" rx="9" fill="#d5e8d4"/>
<rect x="1441" y="364" width="122" height="60" rx="9" fill="#ffcccc"/>
<rect x="1298" y="431" width="123" height="61" rx="9" fill="#d5e8d4"/>
<rect x="1441" y="431" width="122" height="61" rx="9" fill="#ffcccc"/>
<g class="s" font-size="14" font-weight="bold" text-anchor="middle">
<text x="1359" y="389">Cross-attention</text><text x="1359" y="409">Module with <tspan fill="#e00">Mask</tspan></text>
<text x="1502" y="389">Self-attention</text><text x="1502" y="409">Module with <tspan fill="#e00">Mask</tspan></text>
<text x="1359" y="456">Cross-attention</text><text x="1359" y="476">Module with <tspan fill="#e00">Mask</tspan></text>
<text x="1502" y="456">Self-attention</text><text x="1502" y="476">Module with <tspan fill="#e00">Mask</tspan></text>
</g>
<g fill="none" stroke="#000" stroke-width="1.4">
<path d="M1441,393 L1426,393" marker-end="url(#a)"/><path d="M1441,462 L1426,462" marker-end="url(#a)"/>
<path d="M1440,458 L1426,405" marker-end="url(#a)"/><path d="M1440,398 L1426,446" marker-end="url(#a)"/>
</g>
<line x1="1293" y1="398" x2="1252" y2="398" stroke="#000" stroke-width="1.8" marker-end="url(#a)"/>
<line x1="1293" y1="463" x2="1252" y2="463" stroke="#000" stroke-width="1.8" marker-end="url(#a)"/>
<text class="t" x="1185" y="384" font-size="18" font-weight="bold">F<tspan font-size="11" dy="5">q</tspan></text><text class="t" x="1197" y="374" font-size="11" font-style="italic">s</text><text class="t" x="1185" y="372" font-size="12">~</text>
<g transform="translate(1137,388)"><use href="#cb" fill="#5a82c8"/><use href="#cb" x="14" fill="#a9bfe3"/><use href="#cb" x="28" fill="#7899d2"/><line x1="52" y1="12" x2="66" y2="12" stroke="#222" stroke-width="2" stroke-dasharray="2 3"/><use href="#cb" x="70" fill="#a9bfe3"/><use href="#cb" x="84" fill="#5a82c8"/></g>
<text class="t" x="1185" y="451" font-size="18" font-weight="bold">F<tspan font-size="11" dy="5">I</tspan></text><text class="t" x="1196" y="441" font-size="11" font-style="italic">s</text><text class="t" x="1185" y="439" font-size="12">~</text>
<g transform="translate(1137,456)"><use href="#cb" fill="#f2c232"/><use href="#cb" x="14" fill="#f5e2b0"/><use href="#cb" x="28" fill="#f2c232"/><line x1="52" y1="12" x2="66" y2="12" stroke="#222" stroke-width="2" stroke-dasharray="2 3"/><use href="#cb" x="70" fill="#f5e2b0"/><use href="#cb" x="84" fill="#f2c232"/></g>
<text class="t" x="1008" y="390" font-size="19" font-weight="bold" text-anchor="middle">S</text>
<rect x="962" y="392" width="81" height="79" fill="#fff" stroke="#333"/>
<rect x="962" y="392" width="13" height="13" fill="#f2eed6"/><rect x="962" y="405" width="13" height="13" fill="#1a0505"/><rect x="975" y="405" width="13" height="13" fill="#e5d3a8"/><rect x="975" y="418" width="13" height="13" fill="#8b4a4a"/><rect x="1002" y="418" width="13" height="13" fill="#f2eed6"/><rect x="1030" y="392" width="13" height="13" fill="#c9a08e"/><rect x="1030" y="405" width="13" height="13" fill="#1a0505"/><rect x="1030" y="418" width="13" height="13" fill="#e5d3a8"/><rect x="1003" y="444" width="13" height="13" fill="#1a0505"/><rect x="1016" y="444" width="13" height="13" fill="#c9a08e"/><rect x="1003" y="457" width="13" height="14" fill="#e5d3a8"/><rect x="1016" y="457" width="13" height="14" fill="#1a0505"/>
<rect x="975" y="392" width="13" height="79" fill="none" stroke="#e00" stroke-width="1.8"/>
<line x1="978" y1="392" x2="978" y2="368" stroke="#e00" stroke-width="1.5"/><polygon points="978,368 990,374 978,380" fill="#e00"/>
<text class="t" transform="translate(1050,432) rotate(90)" font-size="17" text-anchor="middle">Pixel Proxies</text>
<text class="t" x="1005" y="489" font-size="17" text-anchor="middle">Point Proxies</text>

<!-- ===== Panel 5 ===== -->
<text class="t" x="1170" y="538" font-size="19" font-style="italic">M</text><text class="t" x="1187" y="529" font-size="11" font-style="italic">P</text>
<g transform="translate(1125,550)" font-family="Liberation Sans,sans-serif" font-size="11" text-anchor="middle"><rect width="87" height="13" fill="#fff" stroke="#4472c4" stroke-width="1.4"/><line x1="13" y1="0" x2="13" y2="13" stroke="#4472c4"/><line x1="26" y1="0" x2="26" y2="13" stroke="#4472c4"/><line x1="39" y1="0" x2="39" y2="13" stroke="#4472c4"/><line x1="61" y1="0" x2="61" y2="13" stroke="#4472c4"/><line x1="74" y1="0" x2="74" y2="13" stroke="#4472c4"/><text x="6.5" y="11">1</text><text x="19.5" y="11">1</text><text x="32.5" y="11">1</text><text x="50" y="10">···</text><text x="67.5" y="11">0</text><text x="80.5" y="11">0</text></g>
<path d="M1167,563 L1167,571 L1163,571 L1170,578 L1177,571 L1173,571 L1173,563Z" fill="#4472c4"/>
<g transform="translate(1104,571)" font-family="Liberation Sans,sans-serif" font-size="11" text-anchor="middle"><rect width="13" height="85" fill="#fff" stroke="#f2c232" stroke-width="1.4"/><line x1="0" y1="12" x2="13" y2="12" stroke="#f2c232"/><line x1="0" y1="24" x2="13" y2="24" stroke="#f2c232"/><line x1="0" y1="36" x2="13" y2="36" stroke="#f2c232"/><line x1="0" y1="61" x2="13" y2="61" stroke="#f2c232"/><line x1="0" y1="73" x2="13" y2="73" stroke="#f2c232"/><text x="6.5" y="10">1</text><text x="6.5" y="22">1</text><text x="6.5" y="34">1</text><text x="6.5" y="51">⋮</text><text x="6.5" y="71">0</text><text x="6.5" y="83">0</text></g>
<text class="t" x="1100" y="675" font-size="19" font-style="italic">M</text><text class="t" x="1116" y="665" font-size="11" font-style="italic">I</text>
<path d="M1121,606 L1128,606 L1128,602 L1134,609 L1128,616 L1128,612 L1121,612Z" fill="#f7c744"/>
<rect x="1135" y="578" width="66" height="66" fill="#999" stroke="#333"/>
<rect x="1135" y="578" width="40" height="50" fill="#fff"/>
<g stroke="#eee" stroke-width=".6"><line x1="1135" y1="588" x2="1175" y2="588"/><line x1="1135" y1="598" x2="1175" y2="598"/><line x1="1135" y1="608" x2="1175" y2="608"/><line x1="1135" y1="618" x2="1175" y2="618"/><line x1="1145" y1="578" x2="1145" y2="628"/><line x1="1155" y1="578" x2="1155" y2="628"/><line x1="1165" y1="578" x2="1165" y2="628"/></g>
<text class="t" x="1171" y="683" font-size="19" font-weight="bold" text-anchor="middle">D</text><text class="t" x="1166" y="668" font-size="13">^</text><text class="t" x="1180" y="671" font-size="11" font-style="italic">j</text>
<rect x="1201" y="682" width="5" height="75" fill="#5b9bd5"/><rect x="1135" y="751" width="71" height="6" fill="#5b9bd5"/>
<rect x="1133" y="686" width="68" height="65" fill="#fbf6e6"/>
<g opacity=".85"><rect x="1137" y="686" width="4" height="65" fill="#e8c8b0"/><rect x="1148" y="690" width="4" height="40" fill="#d9b0a6"/><rect x="1160" y="700" width="5" height="50" fill="#ecd6b8"/><rect x="1169" y="716" width="5" height="30" fill="#c4888a"/><rect x="1171" y="722" width="3" height="6" fill="#2a0808"/><rect x="1180" y="688" width="5" height="60" fill="#ecd6b8"/><rect x="1190" y="690" width="5" height="30" fill="#c4888a"/><rect x="1191" y="700" width="3" height="5" fill="#3a0a0a"/><rect x="1186" y="730" width="4" height="20" fill="#c4888a"/></g>
<circle cx="1094" cy="722" r="7" fill="#fff" stroke="#000" stroke-width="1.4"/><text class="s" x="1094" y="726" font-size="11" text-anchor="middle">×</text>
<line x1="1101" y1="722" x2="1131" y2="722" stroke="#000" stroke-width="1.8" marker-end="url(#a)"/>
<text class="t" x="1171" y="774" font-size="18" text-anchor="middle">Add</text>
<text class="t" x="1171" y="793" font-size="18" text-anchor="middle">Slack Entries</text>
<line x1="1201" y1="610" x2="1232" y2="647" stroke="#000" stroke-width="1.6" marker-end="url(#a)"/>
<line x1="1207" y1="712" x2="1232" y2="685" stroke="#000" stroke-width="1.6" marker-end="url(#a)"/>
<rect x="1233" y="617" width="41" height="90" rx="8" fill="#fff" stroke="#333" stroke-width="1.3"/>
<text class="s" transform="translate(1258,662) rotate(90)" font-size="15" text-anchor="middle">Optimal</text>
<text class="s" transform="translate(1241,662) rotate(90)" font-size="15" text-anchor="middle">Transport</text>
<line x1="1274" y1="662" x2="1296" y2="662" stroke="#000" stroke-width="1.8" marker-end="url(#a)"/>
<text class="t" x="1337" y="618" font-size="19" font-weight="bold" text-anchor="middle">S</text><text class="t" x="1333" y="602" font-size="12">¨</text><text class="t" x="1346" y="606" font-size="11" font-style="italic">j</text>
<rect x="1298" y="622" width="80" height="79" fill="#fff" stroke="#333"/>
<g opacity=".85"><rect x="1298" y="622" width="6" height="45" fill="#ecd6b8"/><rect x="1300" y="626" width="5" height="10" fill="#c4888a"/><rect x="1310" y="630" width="6" height="50" fill="#f2e6c8"/><rect x="1318" y="640" width="5" height="18" fill="#c4888a"/><rect x="1326" y="622" width="6" height="40" fill="#ecd6b8"/><rect x="1336" y="622" width="6" height="20" fill="#c4888a"/><rect x="1336" y="628" width="5" height="6" fill="#2a0808"/><rect x="1343" y="622" width="6" height="30" fill="#ecd6b8"/><rect x="1330" y="655" width="5" height="30" fill="#ecd6b8"/><rect x="1330" y="660" width="5" height="10" fill="#c4888a"/><rect x="1350" y="630" width="5" height="20" fill="#f2e6c8"/></g>
<text class="t" x="1339" y="718" font-size="17" text-anchor="middle">Points</text>
<text class="t" transform="translate(1382,662) rotate(90)" font-size="17" text-anchor="middle">Pixels</text>
<line x1="1388" y1="662" x2="1406" y2="662" stroke="#000" stroke-width="1.8" marker-end="url(#a)"/>
<rect x="1408" y="617" width="40" height="90" rx="8" fill="#fff" stroke="#333" stroke-width="1.3"/>
<text class="s" transform="translate(1432,662) rotate(90)" font-size="15" text-anchor="middle">Confidence</text>
<text class="s" transform="translate(1416,662) rotate(90)" font-size="15" text-anchor="middle">Sorting</text>
<line x1="1448" y1="662" x2="1466" y2="662" stroke="#000" stroke-width="1.8" marker-end="url(#a)"/>
<path d="M1476,605 Q1469,605 1469,612 L1469,655 Q1469,662 1464,662 Q1469,662 1469,669 L1469,712 Q1469,719 1476,719" fill="none" stroke="#000" stroke-width="1.2"/>
<text class="t" x="1566" y="573" font-size="20" text-anchor="middle">Point Cloud</text>
<path d="M1478,590 L1530,584 L1600,590 L1648,598 L1648,640 L1478,644Z" fill="url(#dk)"/>
<path d="M1480,605 L1648,600 L1648,638 L1480,640Z" fill="#9d9d9d" opacity=".55"/>
<circle cx="1607" cy="616" r="11" fill="none" stroke="#e00" stroke-width="1.3" stroke-dasharray="2 2"/>
<text class="t" x="1566" y="679" font-size="20" text-anchor="middle">RGB Image</text>
<use href="#ph" x="1476" y="684" width="174" height="62"/>
<rect x="1476" y="684" width="174" height="62" fill="none" stroke="#333"/>
<rect x="1570" y="711" width="16" height="15" fill="none" stroke="#e00" stroke-width="1.3" stroke-dasharray="2 2"/><rect x="1586" y="713" width="16" height="13" fill="none" stroke="#e00" stroke-width="1.3" stroke-dasharray="2 2"/>
<g stroke="#1e1" stroke-width="1.3"><line x1="1600" y1="612" x2="1574" y2="722"/><line x1="1604" y1="614" x2="1579" y2="723"/><line x1="1607" y1="616" x2="1584" y2="720"/><line x1="1610" y1="618" x2="1589" y2="724"/><line x1="1613" y1="620" x2="1594" y2="722"/><line x1="1603" y1="622" x2="1586" y2="718"/><line x1="1609" y1="611" x2="1598" y2="718"/></g>
</svg>
</body></html>
